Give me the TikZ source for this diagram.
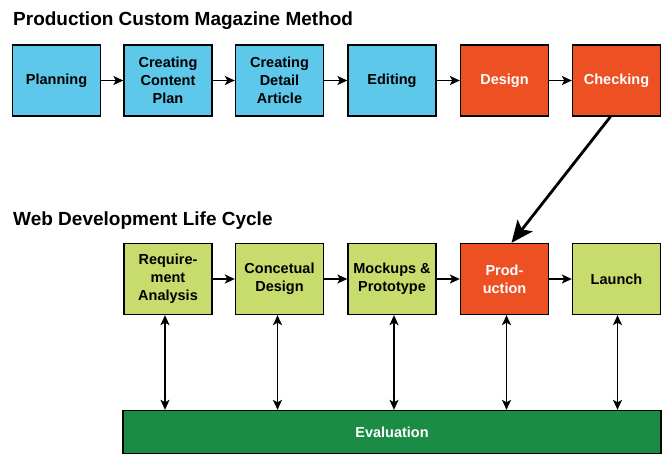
\documentclass[tikz,border=0pt]{standalone}
\usepackage{fontspec}
\setmainfont{Liberation Sans}
\usetikzlibrary{arrows.meta}
\definecolor{cblue}{RGB}{94,200,234}
\definecolor{cred}{RGB}{236,80,35}
\definecolor{clgreen}{RGB}{200,220,110}
\definecolor{cdgreen}{RGB}{26,140,70}
\tikzset{
  box/.style={draw=black, line width=1.3pt, minimum width=88pt, minimum height=71pt, inner sep=1pt, align=center,
    font=\fontsize{14.5}{18}\selectfont\bfseries},
  bluebox/.style={box, fill=cblue, text=black},
  redbox/.style={box, fill=cred, text=white},
  greenbox/.style={box, fill=clgreen, text=black},
  flow/.style={line width=1.5pt, -{Stealth[length=10pt,width=9pt,inset=2.5pt]}},
  both/.style={line width=1.5pt, {Stealth[length=10pt,width=9pt,inset=2.5pt]}-{Stealth[length=10pt,width=9pt,inset=2.5pt]}},
  bigarrow/.style={line width=2.8pt, -{Stealth[length=22pt,width=19pt,inset=5pt]}},
  title/.style={anchor=base west, inner sep=0pt, font=\fontsize{19}{22}\selectfont\bfseries}
}
\begin{document}
\begin{tikzpicture}[x=1pt,y=-1pt]
\useasboundingbox (0,0) rectangle (664,455);
\node[title] (t1) at (13,25) {Production Custom Magazine Method};
\node[title] (t2) at (13,225) {Web Development Life Cycle};

\node[bluebox] (plan) at (56.5,80.5) {Planning};
\node[bluebox] (ccp) at (168,80.5) {Creating\\Content\\Plan};
\node[bluebox] (cda) at (279.5,80.5) {Creating\\Detail\\Article};
\node[bluebox] (edit) at (392,80.5) {Editing};
\node[redbox] (des) at (504.5,80.5) {Design};
\node[redbox] (chk) at (616.5,80.5) {Checking};

\node[greenbox] (req) at (168,279) {Require-\\ment\\Analysis};
\node[greenbox] (con) at (279.5,279) {Concetual\\Design};
\node[greenbox] (mock) at (392,279) {Mockups \&\\Prototype};
\node[redbox] (prod) at (504.5,279) {Prod-\\uction};
\node[greenbox] (lau) at (616.5,279) {Launch};

\node[draw=black, line width=1.3pt, fill=cdgreen, text=white, minimum width=538pt, minimum height=43pt,
  font=\fontsize{14.5}{18}\selectfont\bfseries] (eval) at (392,432) {Evaluation};

\draw[flow] (plan) -- (ccp);
\draw[flow] (ccp) -- (cda);
\draw[flow] (cda) -- (edit);
\draw[flow] (edit) -- (des);
\draw[flow] (des) -- (chk);

\draw[flow] (req) -- (con);
\draw[flow] (con) -- (mock);
\draw[flow] (mock) -- (prod);
\draw[flow] (prod) -- (lau);

\draw[bigarrow] ([xshift=-6pt]chk.south) -- ([xshift=7pt]prod.north);

\foreach \n/\dx in {req/-3,con/-2,mock/2,prod/2,lau/1}
  \draw[both] ([xshift=\dx pt]\n.south) -- ([xshift=\dx pt]\n.south |- eval.north);
\end{tikzpicture}
\end{document}
